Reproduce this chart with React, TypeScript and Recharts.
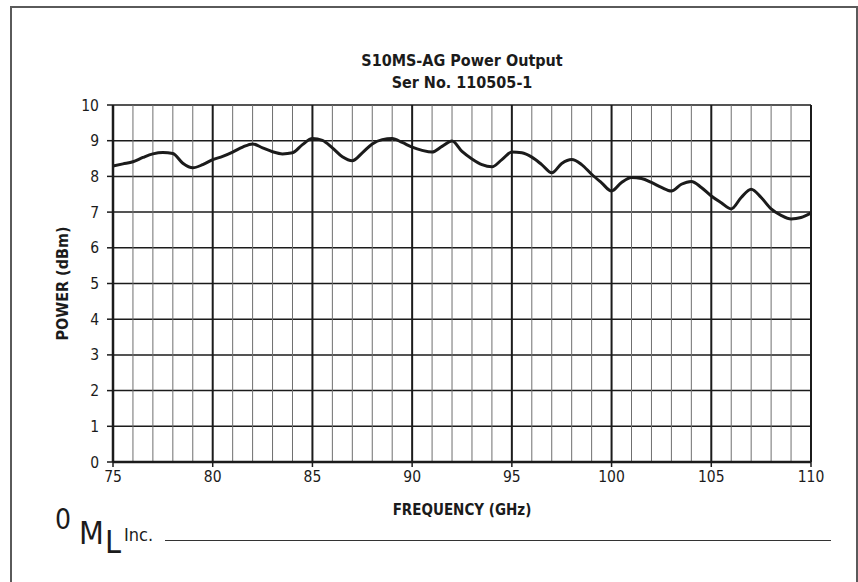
import React from 'react';
import { LineChart, Line, XAxis, YAxis, CartesianGrid, ReferenceLine, Label } from 'recharts';

const frequency = [
  75, 75.5, 76, 76.5, 77, 77.5, 78, 78.5, 79, 79.5, 80, 80.5, 81, 81.5, 82, 82.5, 83, 83.5,
  84, 84.5, 85, 85.5, 86, 86.5, 87, 87.5, 88, 88.5, 89, 89.5, 90, 90.5, 91, 91.5, 92, 92.5,
  93, 93.5, 94, 94.5, 95, 95.5, 96, 96.5, 97, 97.5, 98, 98.5, 99, 99.5, 100, 100.5, 101,
  101.5, 102, 102.5, 103, 103.5, 104, 104.5, 105, 105.5, 106, 106.5, 107, 107.5, 108, 108.5,
  109, 109.5, 110,
];
const power = [
  8.29, 8.35, 8.41, 8.53, 8.63, 8.67, 8.64, 8.37, 8.24, 8.33, 8.47, 8.56, 8.68, 8.82, 8.91, 8.8, 8.69, 8.63,
  8.66, 8.89, 9.06, 9.01, 8.8, 8.55, 8.44, 8.66, 8.91, 9.03, 9.06, 8.95, 8.82, 8.73, 8.68, 8.84, 8.99, 8.7,
  8.49, 8.33, 8.27, 8.47, 8.68, 8.66, 8.54, 8.33, 8.1, 8.36, 8.47, 8.33, 8.06, 7.82, 7.59, 7.83, 7.97,
  7.94, 7.83, 7.69, 7.59, 7.78, 7.86, 7.69, 7.45, 7.26, 7.09, 7.41, 7.64, 7.41, 7.09, 6.91,
  6.81, 6.85, 6.98,
];

const xTicks = [75, 80, 85, 90, 95, 100, 105, 110];
const xMinorTicks = [
  76, 77, 78, 79, 81, 82, 83, 84, 86, 87, 88, 89, 91, 92, 93, 94,
  96, 97, 98, 99, 101, 102, 103, 104, 106, 107, 108, 109,
];
const yTicks = [0, 1, 2, 3, 4, 5, 6, 7, 8, 9, 10];

const data = frequency.map((f, i) => ({ f, p: power[i] }));

const FONT = "'Liberation Sans Narrow', 'DejaVu Sans Condensed', sans-serif";
const INK = '#1b1b1b';

export default function App() {
  return (
    <div style={{ position: 'fixed', left: 0, top: 0, width: 858, height: 582, overflow: 'hidden', background: '#fff', fontFamily: FONT }}>
      {/* page frame */}
      <div style={{ position: 'absolute', left: 10, top: 6, width: 844, height: 620, border: '2px solid #5a5a5a' }} />

      <div style={{ position: 'absolute', left: 0, top: 50, width: 924, textAlign: 'center', fontWeight: 'bold', fontSize: 16, lineHeight: '22px', color: INK }}>
        S10MS-AG Power Output<br />Ser No. 110505-1
      </div>

      <div style={{ position: 'absolute', left: 0, top: 0 }}>
        <LineChart width={858} height={582} data={data} margin={{ top: 105, right: 47, bottom: 90, left: 83 }}>
          <CartesianGrid stroke={INK} strokeWidth={1.5} vertical={false} />
          {xMinorTicks.map((t) => (
            <ReferenceLine key={t} x={t} stroke="#6f6f6f" strokeWidth={1} />
          ))}
          <CartesianGrid stroke={INK} strokeWidth={2} horizontal={false} />
          <XAxis
            dataKey="f"
            type="number"
            domain={[75, 110]}
            ticks={xTicks}
            height={30}
            axisLine={{ stroke: INK, strokeWidth: 2.5 }}
            tickLine={{ stroke: INK, strokeWidth: 1.5 }}
            tickSize={5}
            tickMargin={4}
            tick={{ fontFamily: FONT, fontSize: 15.5, fill: INK }}
          >
            <Label value="FREQUENCY (GHz)" position="bottom" offset={12} style={{ fontFamily: FONT, fontSize: 15, fontWeight: 'bold', fill: INK }} />
          </XAxis>
          <YAxis
            type="number"
            domain={[0, 10]}
            ticks={yTicks}
            width={30}
            axisLine={{ stroke: INK, strokeWidth: 2.5 }}
            tickLine={{ stroke: INK, strokeWidth: 1.5 }}
            tickSize={6}
            tickMargin={8}
            tick={{ fontFamily: FONT, fontSize: 15.5, fill: INK }}
          >
            <Label value="POWER (dBm)" angle={-90} position="left" offset={21} style={{ fontFamily: FONT, fontSize: 16, fontWeight: 'bold', fill: INK, textAnchor: 'middle' }} />
          </YAxis>
          <Line type="monotone" dataKey="p" stroke={INK} strokeWidth={3} dot={false} isAnimationActive={false} />
        </LineChart>
      </div>

      {/* logo */}
      <span style={{ position: 'absolute', left: 55, top: 504, fontSize: 28, lineHeight: '32px', color: INK }}>0</span>
      <span style={{ position: 'absolute', left: 79, top: 515, fontSize: 32, lineHeight: '36px', color: INK }}>M</span>
      <span style={{ position: 'absolute', left: 105, top: 524, fontSize: 32, lineHeight: '36px', color: INK }}>L</span>
      <span style={{ position: 'absolute', left: 124, top: 524, fontSize: 18, lineHeight: '22px', color: INK }}>Inc.</span>
      <div style={{ position: 'absolute', left: 165, top: 540, width: 666, height: 0, borderTop: '1.5px solid #333' }} />
    </div>
  );
}
